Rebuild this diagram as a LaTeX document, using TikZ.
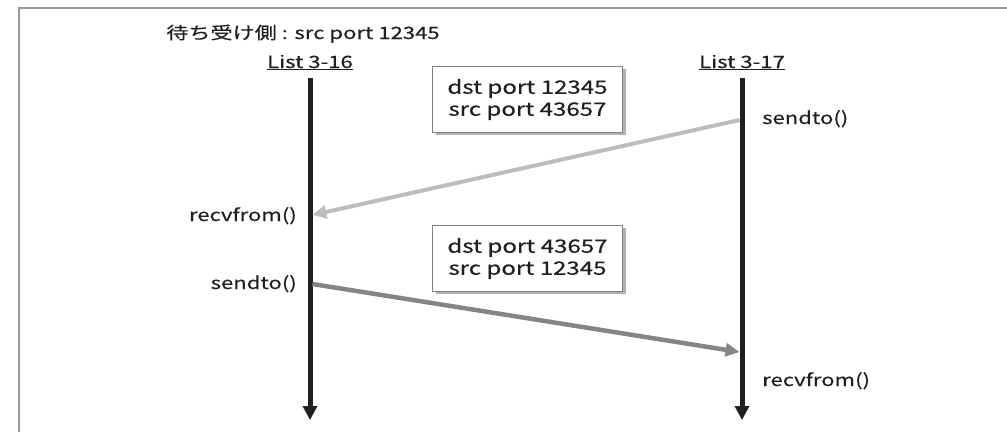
\documentclass[tikz,border=0pt]{standalone}
\usepackage{fontspec}
\setmainfont{Noto Sans CJK JP}[FakeStretch=1.3,FakeBold=0.4]
\usetikzlibrary{arrows.meta}
\definecolor{lifec}{HTML}{231F20}
\definecolor{framec}{HTML}{9A9A9A}
\definecolor{lightarr}{HTML}{BDBDBD}
\definecolor{midarr}{HTML}{858585}
\begin{document}
\begin{tikzpicture}[x=1pt,y=-1pt,
  lbl/.style={font=\fontsize{17}{20}\selectfont, inner sep=0pt, text=lifec},
  lifeline/.style={line width=5pt, draw=lifec, -{Triangle[width=14pt,length=14pt]}},
  portbox/.style={draw=black!50, line width=1pt, fill=white, minimum width=190pt, minimum height=66pt,
     align=center, font=\fontsize{18.5}{22}\selectfont, text=lifec, inner sep=0pt},
  shadowc/.style={fill=black!30},
]
\useasboundingbox (0,0) rectangle (1007,432);
\draw[framec, line width=2pt] (19,432) -- (19,7.5) -- (1007,7.5);
% titles
\node[lbl, anchor=base] (title) at (303,39) {待ち受け側 : src port 12345};
\node[lbl, anchor=base] (l16) at (310,68) {\underline{List 3-16}};
\node[lbl, anchor=base] (l17) at (742,68) {\underline{List 3-17}};
% lifelines
\coordinate (a0) at (310,78);
\coordinate (a1) at (310,420);
\coordinate (b0) at (742,78);
\coordinate (b1) at (742,420);
\draw[lifeline] (a0) -- (a1);
\draw[lifeline] (b0) -- (b1);
% boxes with shadows
\fill[shadowc] (436,69) rectangle (626,135);
\node[portbox, anchor=north west] (box1) at (432,66) {dst port 12345\\src port 43657};
\fill[shadowc] (436,228) rectangle (626,294);
\node[portbox, anchor=north west] (box2) at (432,225) {dst port 43657\\src port 12345};
% messages
\coordinate (m1s) at (739.5,120);
\coordinate (m1e) at (312.5,215);
\coordinate (m2s) at (312.5,284);
\coordinate (m2e) at (739.5,352);
\draw[lightarr, line width=4pt, -{Triangle[width=13pt,length=14pt]}] (m1s) -- (m1e);
\draw[midarr, line width=4.5pt, -{Triangle[width=13pt,length=14pt]}] (m2s) -- (m2e);
% labels
\node[lbl, anchor=base west] (s1) at (762,124) {sendto()};
\node[lbl, anchor=base east] (r1) at (297,221) {recvfrom()};
\node[lbl, anchor=base east] (s2) at (297,289) {sendto()};
\node[lbl, anchor=base west] (r2) at (762,386) {recvfrom()};
\end{tikzpicture}
\end{document}
